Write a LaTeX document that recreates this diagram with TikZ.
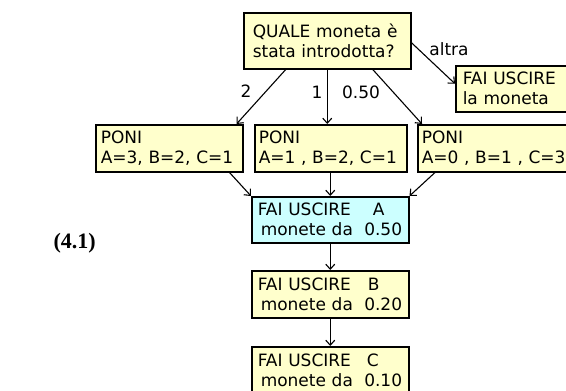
\documentclass[tikz,border=0pt]{standalone}
\usepackage{fontspec}
\setmainfont{DejaVu Sans}
\newfontfamily\labelfont{Liberation Serif}
\usetikzlibrary{arrows.meta}
\definecolor{boxyellow}{RGB}{255,255,204}
\definecolor{boxcyan}{RGB}{204,255,255}
\tikzset{
  flowbox/.style={draw=black, line width=1.5pt, fill=boxyellow, anchor=north west,
    inner ysep=0pt, align=left, font=\fontsize{17}{20}\selectfont},
  conn/.style={draw=black, line width=1.1pt, -{Straight Barb[length=5pt,width=9pt]}},
  edgelabel/.style={font=\fontsize{17}{20}\selectfont, inner sep=0pt}
}
\begin{document}
\begin{tikzpicture}[x=1pt, y=-1pt]
\useasboundingbox (0,0) rectangle (566,391);
\clip (0,0) rectangle (566,391);
\fill[white] (0,0) rectangle (566,391);

% question box and the three assignment boxes
\node[flowbox, minimum height=56pt, text width=149pt, inner xsep=9pt] (q) at (243,12)
  {QUALE moneta è\\stata introdotta?};
\node[flowbox, minimum height=46pt, text width=106pt, inner xsep=7pt] (out) at (455,65)
  {FAI USCIRE\\la moneta};
\node[flowbox, minimum height=47pt, text width=137pt, inner xsep=5pt] (p1) at (95,124)
  {PONI\\A=3, B=2, C=1};
\node[flowbox, minimum height=47pt, text width=144pt, inner xsep=4pt] (p2) at (254,124)
  {PONI\\A=1 , B=2, C=1};
\node[flowbox, minimum height=47pt, text width=152pt, inner xsep=4pt] (p3) at (417,124)
  {PONI\\A=0 , B=1 , C=3};

% output boxes
\node[flowbox, fill=boxcyan, minimum height=46pt, text width=145pt, inner xsep=6pt] (a) at (251,196)
  {FAI USCIRE\hspace{22pt}A\\\hspace{3pt}monete da\ \ 0.50};
\node[flowbox, minimum height=47pt, text width=145pt, inner xsep=6pt] (b) at (251,270)
  {FAI USCIRE\hspace{17pt}B\\\hspace{3pt}monete da\ \ 0.20};
\node[flowbox, minimum height=48pt, text width=145pt, inner xsep=6pt] (c) at (251,346)
  {FAI USCIRE\hspace{16pt}C\\\hspace{3pt}monete da\ \ 0.10};

% connectors
\draw[conn] ([xshift=-41.5pt]q.south) -- ([xshift=-7pt]p1.north east);
\draw[conn] (q.south) -- (q.south |- p2.north);
\draw[conn] ([xshift=45.5pt]q.south) -- ([xshift=5pt]p3.north west);
\draw[conn] ([yshift=-2pt]q.east) -- ([yshift=5pt]out.west);
\draw[conn] ([xshift=-14pt]p1.south east) -- (a.north west);
\draw[conn] (a.north |- p2.south) -- (a.north);
\draw[conn] ([xshift=18pt]p3.south west) -- (a.north east);
\draw[conn] (a.south) -- (a.south |- b.north);
\draw[conn] (b.south) -- (b.south |- c.north);

% branch labels
\node[edgelabel] (l2) at (246,91) {2};
\node[edgelabel] (l1) at (317,92) {1};
\node[edgelabel] (l050) at (361,92) {0.50};
\node[edgelabel] (laltra) at (449,49) {altra};

% equation tag
\node[inner sep=0pt, anchor=east] (tag) at (96,243)
  {\labelfont\bfseries\fontsize{22}{26}\selectfont (4.1)};
\end{tikzpicture}
\end{document}
